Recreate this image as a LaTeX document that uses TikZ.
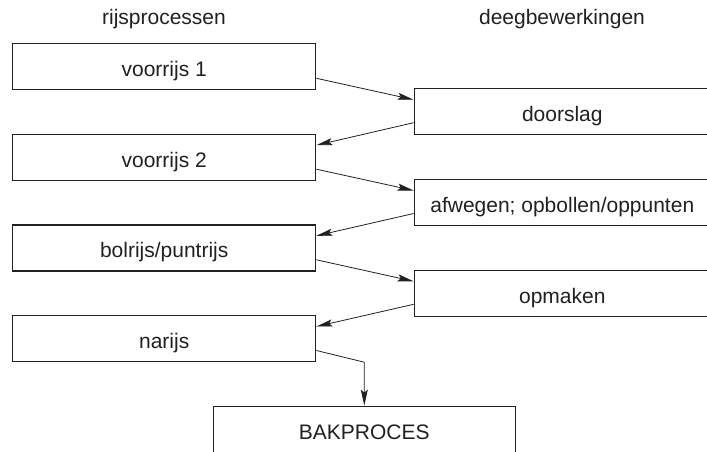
\documentclass[tikz,border=0pt]{standalone}
\usepackage{fontspec}
\setmainfont{Liberation Sans}
\usetikzlibrary{arrows.meta}
\definecolor{ink}{HTML}{231F20}
\begin{document}
\begin{tikzpicture}[x=1pt,y=-1pt,
  font=\fontsize{21}{24}\selectfont,
  box/.style={draw=ink,text=ink,line width=1.4pt,rectangle,inner sep=0pt,
    minimum height=46pt,text height=20pt,text depth=0pt},
  lbox/.style={box,minimum width=303pt},
  rbox/.style={box,minimum width=296pt},
  conn/.style={draw=ink,line width=0.8pt,-{Stealth[length=16pt,width=7pt,inset=3pt]}},
  head/.style={text=ink,anchor=base,inner sep=0pt}]
\useasboundingbox (0,0) rectangle (707,451);
\begin{scope}
\clip (0,0) rectangle (707,451);
\node[head] (h1) at (164,24) {rijsprocessen};
\node[head] (h2) at (562,24) {deegbewerkingen};
\node[lbox] (v1) at (164.2,66.3) {voorrijs 1};
\node[lbox] (v2) at (164.2,157.2) {voorrijs 2};
\node[lbox] (b) at (164.2,247.8) {bolrijs/puntrijs};
\node[lbox] (n) at (164.2,338.5) {narijs};
\node[rbox] (d) at (562.3,111.7) {doorslag};
\node[rbox] (a) at (562.3,202.5) {afwegen; opbollen/oppunten};
\node[rbox] (o) at (562.3,293.3) {opmaken};
\node[box,minimum width=302pt] (k) at (364.3,429.3) {BAKPROCES};
\draw[conn] ([yshift=-12pt]v1.east) -- ([yshift=12pt]d.west);
\draw[conn] ([yshift=-11pt]d.west) -- ([yshift=12pt]v2.east);
\draw[conn] ([yshift=-12pt]v2.east) -- ([yshift=12pt]a.west);
\draw[conn] ([yshift=-11pt]a.west) -- ([yshift=12pt]b.east);
\draw[conn] ([yshift=-12pt]b.east) -- ([yshift=12pt]o.west);
\draw[conn] ([yshift=-11pt]o.west) -- ([yshift=12pt]n.east);
\draw[conn] ([yshift=-12pt]n.east) -- (k.north |- n.south) -- (k.north);
\end{scope}
\end{tikzpicture}
\end{document}
